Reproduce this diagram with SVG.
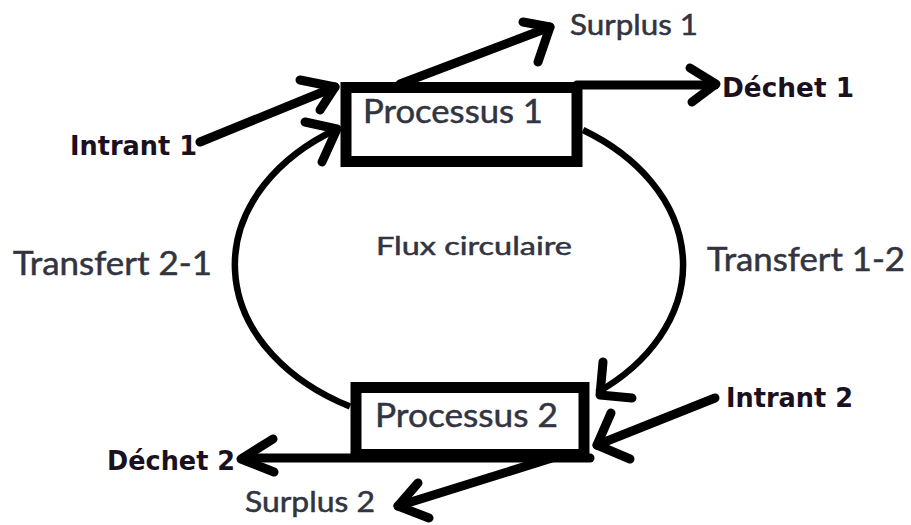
<svg xmlns="http://www.w3.org/2000/svg" width="911" height="525" viewBox="0 0 911 525">
<style>
.box{fill:#fff;stroke:#000;stroke-width:11}
.reg{font-family:Lato,"Open Sans","Liberation Sans",sans-serif;fill:#323440;stroke:#323440;stroke-width:0.5}
.bold{font-family:"DejaVu Sans","Liberation Sans",sans-serif;font-weight:bold;fill:#1b1020;font-size:27px}
.arr{fill:none;stroke:#000;stroke-width:9;stroke-linecap:round;stroke-linejoin:round}
.loop{fill:none;stroke:#000;stroke-width:6.5}
</style>
<rect width="911" height="525" fill="#fff"/>
<g id="connectors">
  <path class="loop" d="M350 406.5 A224 162 0 0 1 337 129"/>
  <path class="loop" d="M583 130 A224 162 0 0 1 597 392.6"/>
  <path class="arr" d="M305 122 L337 129 L322 162"/>
  <path class="arr" d="M603 362 L600 395 L632 398"/>
  <path class="arr" d="M200 142 L335 87"/>
  <path class="arr" d="M300 80 L335 87 L320 110"/>
  <path class="arr" d="M400 84 L550 27"/>
  <path class="arr" d="M523 22 L550 27 L538 62"/>
  <path class="arr" d="M577 85 L715 85"/>
  <path class="arr" d="M690 68 L716 84 L692 102"/>
  <path class="arr" d="M590 458 L243 458"/>
  <path class="arr" d="M273 439 L241 459 L274 472"/>
  <path class="arr" d="M552 458 L398 506"/>
  <path class="arr" d="M418 483 L398 506 L429 518"/>
  <path class="arr" d="M715 398 L597 445"/>
  <path class="arr" d="M611 413 L597 445 L630 459"/>
</g>
<g id="processus1">
  <rect class="box" x="346" y="87.5" width="231" height="74"/>
  <text class="reg" x="363" y="123" font-size="32" textLength="180" lengthAdjust="spacingAndGlyphs">Processus 1</text>
</g>
<g id="processus2">
  <rect class="box" x="356" y="387.5" width="228" height="67"/>
  <text class="reg" x="375" y="427" font-size="33" textLength="183" lengthAdjust="spacingAndGlyphs">Processus 2</text>
</g>
<g id="intrant1"><text class="bold" x="70" y="155" textLength="127" lengthAdjust="spacingAndGlyphs">Intrant 1</text></g>
<g id="intrant2"><text class="bold" x="726" y="407" textLength="127" lengthAdjust="spacingAndGlyphs">Intrant 2</text></g>
<g id="dechet1"><text class="bold" x="722" y="97" textLength="132" lengthAdjust="spacingAndGlyphs">Déchet 1</text></g>
<g id="dechet2"><text class="bold" x="107" y="470" textLength="128" lengthAdjust="spacingAndGlyphs">Déchet 2</text></g>
<g id="surplus1"><text class="reg" x="570" y="35" font-size="28" textLength="128" lengthAdjust="spacingAndGlyphs">Surplus 1</text></g>
<g id="surplus2"><text class="reg" x="245" y="512" font-size="28" textLength="130" lengthAdjust="spacingAndGlyphs">Surplus 2</text></g>
<g id="transfert21"><text class="reg" x="13" y="275" font-size="32" textLength="199" lengthAdjust="spacingAndGlyphs">Transfert 2-1</text></g>
<g id="transfert12"><text class="reg" x="707" y="271" font-size="32" textLength="198" lengthAdjust="spacingAndGlyphs">Transfert 1-2</text></g>
<g id="flux"><text class="reg" x="376" y="255" font-size="25" textLength="196" lengthAdjust="spacingAndGlyphs">Flux circulaire</text></g>
</svg>
